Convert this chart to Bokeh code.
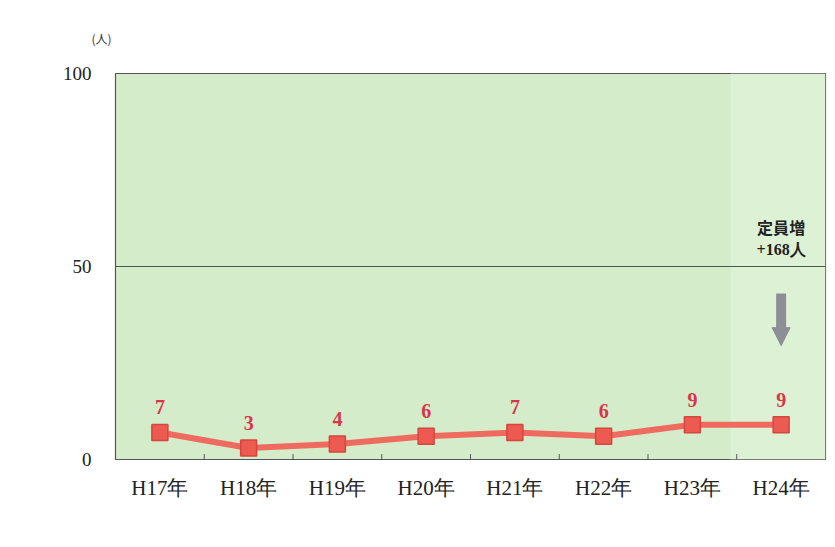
from bokeh.plotting import figure
from bokeh.models import (Range1d, FixedTicker, ColumnDataSource, Label, BoxAnnotation,
                          Arrow, NormalHead)
from bokeh.core.properties import value
from bokeh.embed import file_html
from bokeh.resources import INLINE

categories = ["H17年", "H18年", "H19年", "H20年", "H21年", "H22年", "H23年", "H24年"]
counts = [7, 3, 4, 6, 7, 6, 9, 9]
y_ticks = [0, 50, 100]
unit_label = "(人)"
note_lines = ["定員増", "+168人"]
note_y = [60.2, 54.4]
arrow_top, arrow_bottom = 43, 29.5

n = len(categories)
xs = [i + 0.5 for i in range(n)]

p = figure(width=827, height=539, output_backend="svg", toolbar_location=None,
           x_range=Range1d(0, n), y_range=Range1d(0, 100),
           min_border_left=115, min_border_right=2, min_border_top=73, min_border_bottom=80)

p.border_fill_color = "white"
p.background_fill_color = "#d5ecca"
p.outline_line_color = "#555555"
p.outline_line_width = 1.2

# title used as the unit label
p.title.text = unit_label
p.title.align = "left"
p.title.offset = -24
p.title.standoff = 53
p.title.text_font = "Noto Sans CJK JP"
p.title.text_font_size = "12px"
p.title.text_font_style = "normal"
p.title.text_color = "#333333"

# lighter highlight for the last period
p.add_layout(BoxAnnotation(left=n - 1.07, right=n, fill_color="#ddf2d4", fill_alpha=1.0,
                           line_color=None, level="image"))

# grid
p.xgrid.visible = False
p.ygrid.ticker = FixedTicker(ticks=[50])
p.ygrid.grid_line_color = "#4a5a4a"
p.ygrid.grid_line_width = 1

# y axis
p.yaxis.ticker = FixedTicker(ticks=y_ticks)
p.yaxis.axis_line_color = None
p.yaxis.major_tick_line_color = None
p.yaxis.minor_tick_line_color = None
p.yaxis.major_label_text_font = "Liberation Serif"
p.yaxis.major_label_text_font_size = "19px"
p.yaxis.major_label_text_color = "#222222"
p.yaxis.major_label_standoff = 18

# x axis: labels at centres, ticks at boundaries drawn separately
p.xaxis.ticker = FixedTicker(ticks=xs)
p.xaxis.major_label_overrides = {x: c for x, c in zip(xs, categories)}
p.xaxis.axis_line_color = None
p.xaxis.major_tick_line_color = None
p.xaxis.minor_tick_line_color = None
p.xaxis.major_label_text_font = "Liberation Serif"
p.xaxis.major_label_text_font_size = "21px"
p.xaxis.major_label_text_color = "#222222"
p.xaxis.major_label_standoff = 10

bx = list(range(1, n))
p.segment(x0=bx, x1=bx, y0=[0] * len(bx), y1=[1.4] * len(bx), line_color="#555555", line_width=1)

src = ColumnDataSource(dict(x=xs, y=counts, t=[str(v) for v in counts]))
p.line("x", "y", source=src, line_color="#ef6a5f", line_width=6)
p.scatter("x", "y", source=src, marker="square", size=16, fill_color="#ec5a50",
          line_color="#d4463f", line_width=1.5)
p.text("x", "y", text="t", source=src, text_align="center", text_baseline="bottom",
       y_offset=-18, text_font=value("Liberation Serif"), text_font_style="bold",
       text_font_size="20px", text_color="#d8364a")

# note
last = xs[-1]
p.add_layout(Label(x=last, y=note_y[0], text=note_lines[0], text_font="Noto Sans CJK JP",
                   text_font_style="bold", text_font_size="16px", text_color="#222222",
                   text_align="center", text_baseline="middle"))
p.add_layout(Label(x=last, y=note_y[1], text=note_lines[1], text_font="Liberation Serif",
                   text_font_style="bold", text_font_size="16px", text_color="#222222",
                   text_align="center", text_baseline="middle"))
p.add_layout(Arrow(x_start=last, y_start=arrow_top, x_end=last, y_end=arrow_bottom,
                   line_color="#8c8f96", line_width=10,
                   end=NormalHead(size=18, fill_color="#8c8f96", line_color="#8c8f96")))

open("out.html", "w").write(file_html(p, INLINE))
